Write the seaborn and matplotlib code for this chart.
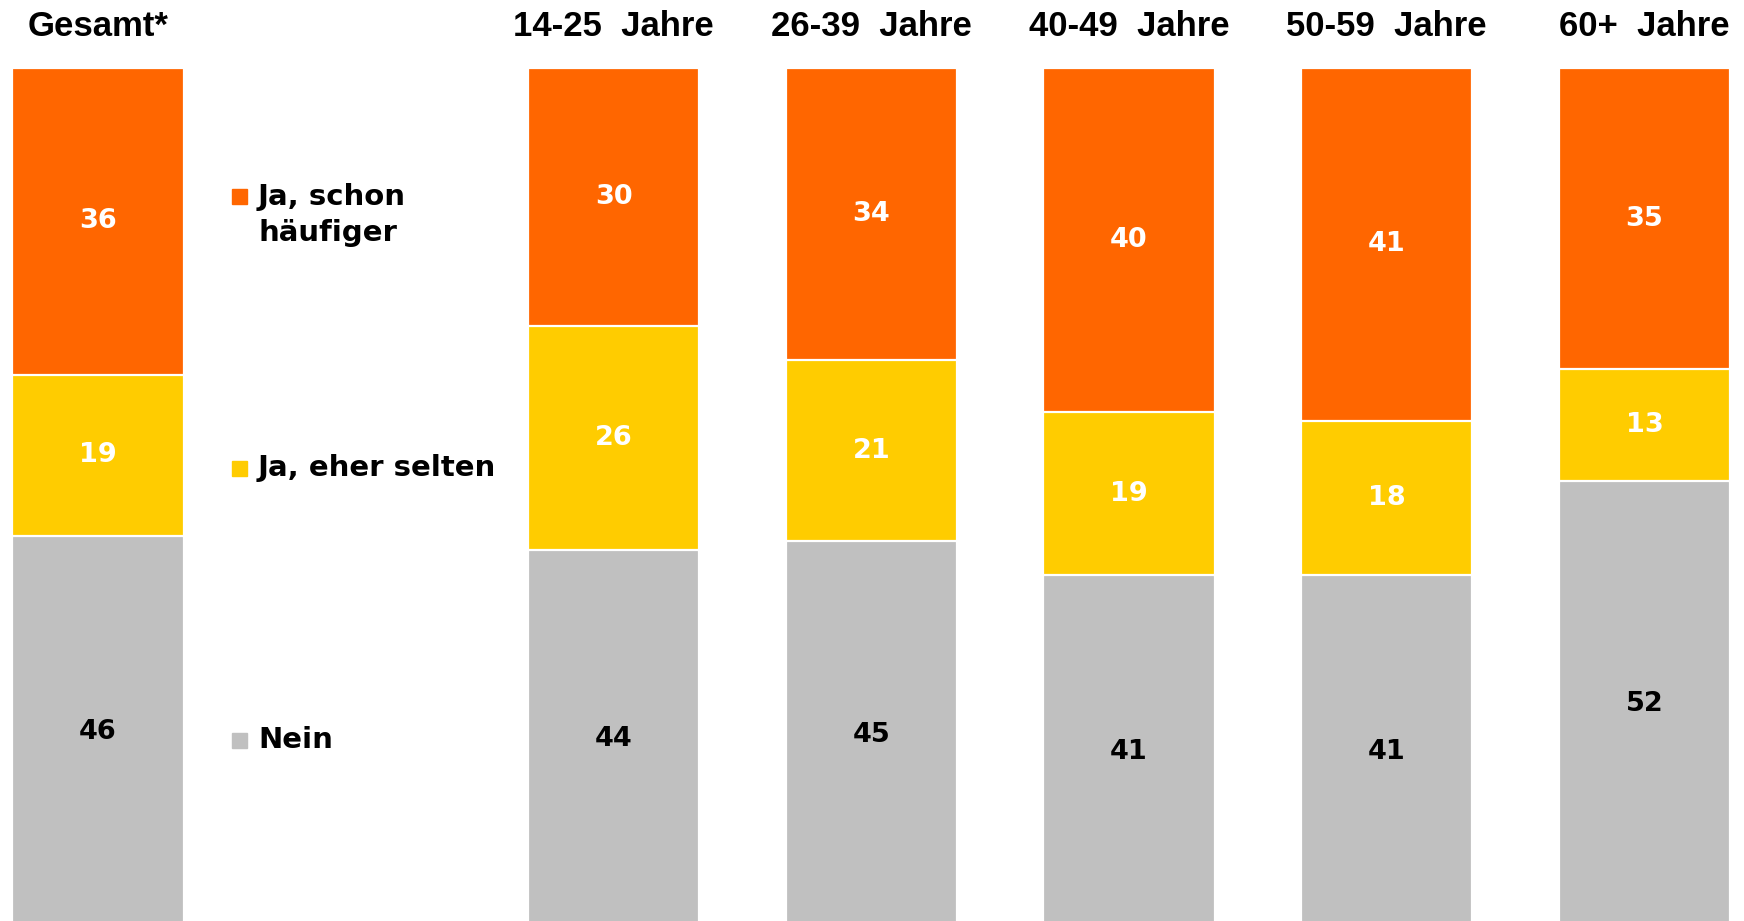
import numpy as np
import pandas as pd
import matplotlib
matplotlib.use("Agg")
import matplotlib.pyplot as plt
import seaborn as sns

# data
groups = ["Gesamt*", "14-25  Jahre", "26-39  Jahre", "40-49  Jahre", "50-59  Jahre", "60+  Jahre"]
ja_oft = [36, 30, 34, 40, 41, 35]
ja_selten = [19, 26, 21, 19, 18, 13]
nein = [46, 44, 45, 41, 41, 52]

series_names = ["Ja, schon\nhäufiger", "Ja, eher selten", "Nein"]
colors = ["#FF6600", "#FFCC00", "#C0C0C0"]
label_colors = ["white", "white", "black"]

# empty slot between "Gesamt" and the age groups
order = [groups[0], " "] + groups[1:]

sns.set_style("white")

W, H = 1744, 921
fig = plt.figure(figsize=(W / 100, H / 100), dpi=100)
# bars run slightly past the lower edge of the picture
ax = fig.add_axes([0, -7 / H, 1, 860 / H])

df = pd.DataFrame({"group": groups, "oft": ja_oft, "selten": ja_selten, "nein": nein})
total = df[["oft", "selten", "nein"]].sum(axis=1)
df["p_oft"] = df["oft"] / total * 100
df["p_selten"] = df["selten"] / total * 100
df["p_nein"] = df["nein"] / total * 100

# cumulative heights, drawn largest first so they overlap into a stack
df["c_oft"] = df["p_nein"] + df["p_selten"] + df["p_oft"]
df["c_selten"] = df["p_nein"] + df["p_selten"]
df["c_nein"] = df["p_nein"]

for col, colr in zip(["c_oft", "c_selten", "c_nein"], colors):
    sns.barplot(data=df, x="group", y=col, order=order, color=colr, width=0.665,
                edgecolor="white", linewidth=1.6, saturation=1, ax=ax)

# value labels in segment centres
for i, row in df.iterrows():
    xpos = order.index(row["group"])
    centers = [row["c_selten"] + row["p_oft"] / 2,
               row["c_nein"] + row["p_selten"] / 2,
               row["p_nein"] / 2]
    vals = [row["oft"], row["selten"], row["nein"]]
    for c, v, lc in zip(centers, vals, label_colors):
        ax.text(xpos, c, str(v), ha="center", va="center", color=lc,
                fontsize=19.5, fontweight="bold", family="DejaVu Sans")

step = 257.75
ax.set_xlim(-98 / step, (W - 98) / step)
ax.set_ylim(0, 100)
ax.set_xlabel("")
ax.set_ylabel("")
ax.set_yticks([])
ax.xaxis.tick_top()
ax.tick_params(axis="x", length=0, pad=18)
for lab in ax.get_xticklabels():
    lab.set_fontsize(25)
    lab.set_fontweight("bold")
    lab.set_family("Liberation Sans")
    lab.set_color("black")
sns.despine(ax=ax, left=True, bottom=True, top=True, right=True)

# legend on the left, next to the "Gesamt" bar
leg_y = [196, 468, 740]
for name, colr, yy in zip(series_names, colors, leg_y):
    n_lines = name.count("\n") + 1
    ty = yy + (n_lines - 1) * 19
    fig.patches.append(plt.Rectangle((232 / W, 1 - (yy + 8) / H), 15 / W, 15 / H,
                                     transform=fig.transFigure, color=colr))
    fig.text(258 / W, 1 - ty / H, name, ha="left", va="center", fontsize=21,
             fontweight="bold", family="DejaVu Sans", linespacing=1.38, color="black")

fig.savefig("out.png", dpi=100, facecolor="white")
